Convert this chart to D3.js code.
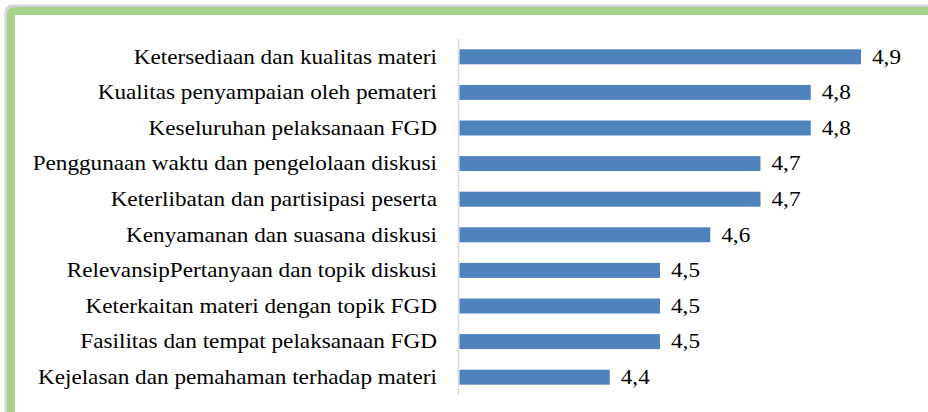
<!DOCTYPE html>
<html>
<head>
<meta charset="utf-8">
<script src="https://cdn.jsdelivr.net/npm/d3@7"></script>
<style>
  body { margin: 0; background: #fff; }
  svg { display: block; }
  text { font-family: "Liberation Serif", "Times New Roman", Tinos, "DejaVu Serif", serif; }
</style>
</head>
<body>
<div id="chart"></div>
<script>
// chart data
var categories = [
  "Ketersediaan dan kualitas materi",
  "Kualitas penyampaian oleh pemateri",
  "Keseluruhan pelaksanaan FGD",
  "Penggunaan waktu dan pengelolaan diskusi",
  "Keterlibatan dan partisipasi peserta",
  "Kenyamanan dan suasana diskusi",
  "RelevansipPertanyaan dan topik diskusi",
  "Keterkaitan materi dengan topik FGD",
  "Fasilitas dan tempat pelaksanaan FGD",
  "Kejelasan dan pemahaman terhadap materi"
];
var scores = [4.9, 4.8, 4.8, 4.7, 4.7, 4.6, 4.5, 4.5, 4.5, 4.4];
var valueLabels = ["4,9", "4,8", "4,8", "4,7", "4,7", "4,6", "4,5", "4,5", "4,5", "4,4"];

var width = 928, height = 412;
var stretch = 1.105; // the source picture is a bit wider than tall

var svg = d3.select("#chart")
  .append("svg")
  .attr("width", width)
  .attr("height", height);

// frame: gray shadow then green border on top and left
svg.append("rect")
  .attr("x", 9).attr("y", 9)
  .attr("width", width + 20).attr("height", height + 20)
  .attr("rx", 3)
  .attr("fill", "none")
  .attr("stroke", "#d6d6d6")
  .attr("stroke-width", 9);
svg.append("rect")
  .attr("x", 11).attr("y", 11)
  .attr("width", width + 20).attr("height", height + 20)
  .attr("rx", 3)
  .attr("fill", "none")
  .attr("stroke", "#a9d18e")
  .attr("stroke-width", 8);
svg.append("rect")
  .attr("x", 15).attr("y", 18)
  .attr("width", width).attr("height", height)
  .attr("fill", "#fff");

// scales
var x = d3.scaleLinear().domain([4.1, 4.9]).range([459, 861]);
var y = d3.scaleBand().domain(categories).range([39, 395])
  .paddingInner(0.58).paddingOuter(0.29);

// category axis line
svg.append("line")
  .attr("x1", 458.5).attr("x2", 458.5)
  .attr("y1", 39).attr("y2", 395)
  .attr("stroke", "#d9d9d9")
  .attr("stroke-width", 1.5);

// bars
svg.selectAll("rect.bar")
  .data(scores)
  .enter().append("rect")
  .attr("class", "bar")
  .attr("x", x(4.1) + 0.5)
  .attr("y", function(d, i) { return y(categories[i]); })
  .attr("width", function(d) { return x(d) - x(4.1) - 0.5; })
  .attr("height", y.bandwidth())
  .attr("fill", "#4f81bd");

// category labels
svg.selectAll("g.cat")
  .data(categories)
  .enter().append("g")
  .attr("class", "cat")
  .attr("transform", function(d) {
    return `translate(437, ${y(d) + y.bandwidth() / 2}) scale(${stretch}, 1)`;
  })
  .append("text")
  .attr("dy", "0.32em")
  .attr("text-anchor", "end")
  .attr("font-size", "21px")
  .attr("fill", "#000")
  .text(function(d) { return d; });

// value labels
svg.selectAll("g.val")
  .data(scores)
  .enter().append("g")
  .attr("class", "val")
  .attr("transform", function(d, i) {
    return `translate(${x(d) + 11}, ${y(categories[i]) + y.bandwidth() / 2}) scale(${stretch}, 1)`;
  })
  .append("text")
  .attr("dy", "0.32em")
  .attr("font-size", "21px")
  .attr("fill", "#000")
  .text(function(d, i) { return valueLabels[i]; });
</script>
</body>
</html>
